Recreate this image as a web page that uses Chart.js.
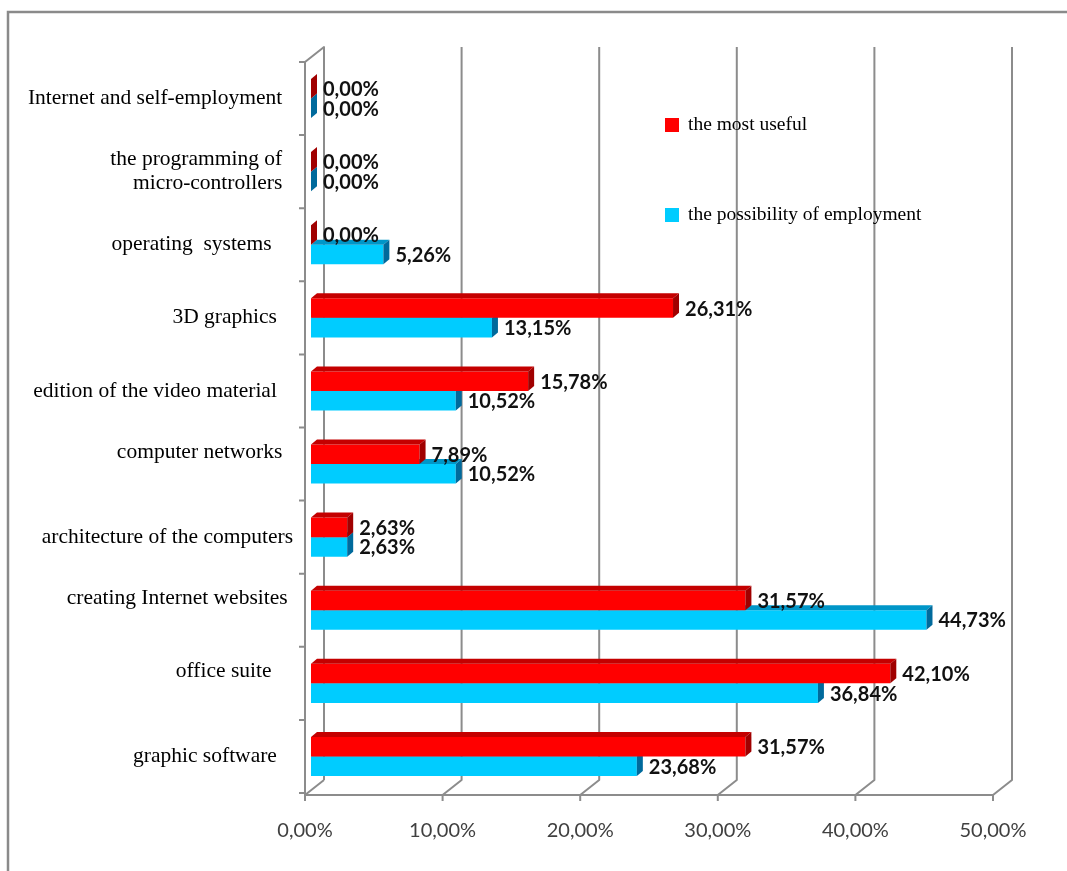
<!DOCTYPE html>
<html>
<head>
<meta charset="utf-8">
<title>Courses</title>
<script src="https://cdn.jsdelivr.net/npm/chart.js@4.4.1/dist/chart.umd.min.js"></script>
<style>
  html, body { margin: 0; padding: 0; background: #fff; }
  canvas { display: block; }
</style>
</head>
<body>
<canvas id="coursesChart" width="1067" height="871"></canvas>
<script>
// 1. DATA
const categories = [
  "Internet and self-employment  ",
  ["the programming of  ", "micro-controllers  "],
  "operating  systems    ",
  "3D graphics   ",
  "edition of the video material   ",
  ["computer networks  ", ""],
  "architecture of the computers",
  ["creating Internet websites ", ""],
  ["office suite    ", ""],
  "graphic software   "
];
const mostUseful = [0, 0, 0, 26.31, 15.78, 7.89, 2.63, 31.57, 42.10, 31.57];
const employment = [0, 0, 5.26, 13.15, 10.52, 10.52, 2.63, 44.73, 36.84, 23.68];
const xTicks = [0, 10, 20, 30, 40, 50];

// 2. LOOK
const RED = { front: "#ff0000", top: "#c40000", side: "#a00000" };
const BLUE = { front: "#00ccff", top: "#0096c8", side: "#006a9c" };
const BAR_DX = 6, BAR_DY = -5;     // bar depth
const WALL_DX = 19, WALL_DY = -15; // back wall depth
const FLOOR_SHIFT = -6;            // front floor edge sits left of the bar base
const GRID = "#8c8c8c";

const pct = v => v.toFixed(2).replace(".", ",") + "%";

// 3. PLUGINS
const frame = {
  id: "frame",
  beforeDraw(chart) {
    const ctx = chart.ctx;
    ctx.save();
    ctx.fillStyle = "#fff";
    ctx.fillRect(0, 0, chart.width, chart.height);
    ctx.strokeStyle = "#8a8a8a";
    ctx.lineWidth = 2.5;
    ctx.beginPath();
    ctx.moveTo(8, chart.height);
    ctx.lineTo(8, 12);
    ctx.lineTo(chart.width, 12);
    ctx.stroke();
    ctx.restore();
  }
};

// side wall, back wall grid and floor
const walls = {
  id: "walls",
  beforeDatasetsDraw(chart) {
    const { ctx, scales: { x, y } } = chart;
    const fx = v => x.getPixelForValue(v) + FLOOR_SHIFT;
    const top = y.top, floor = y.bottom + 2;
    ctx.save();
    ctx.strokeStyle = GRID;
    ctx.lineWidth = 2;
    ctx.lineJoin = "round";

    // left wall
    ctx.beginPath();
    ctx.moveTo(fx(0) + WALL_DX, floor + WALL_DY);
    ctx.lineTo(fx(0), floor);
    ctx.lineTo(fx(0), top);
    ctx.lineTo(fx(0) + WALL_DX, top + WALL_DY);
    ctx.lineTo(fx(0) + WALL_DX, floor + WALL_DY);
    ctx.stroke();

    // grid on the back wall with floor slants
    xTicks.slice(1).forEach(v => {
      ctx.beginPath();
      ctx.moveTo(fx(v) + WALL_DX, top + WALL_DY);
      ctx.lineTo(fx(v) + WALL_DX, floor + WALL_DY);
      ctx.lineTo(fx(v), floor);
      ctx.stroke();
    });

    // floor edge + ticks
    ctx.beginPath();
    ctx.moveTo(fx(0), floor);
    ctx.lineTo(fx(xTicks[xTicks.length - 1]), floor);
    xTicks.forEach(v => {
      ctx.moveTo(fx(v), floor);
      ctx.lineTo(fx(v), floor + 6);
    });
    // category ticks
    const band = (y.bottom - y.top) / categories.length;
    for (let i = 0; i <= categories.length; i++) {
      const ty = Math.min(y.top + i * band, floor);
      ctx.moveTo(fx(0) - 6, ty);
      ctx.lineTo(fx(0), ty);
    }
    ctx.stroke();
    ctx.restore();
  }
};

// top and end faces of every bar
const bars3d = {
  id: "bars3d",
  afterDatasetDraw(chart, args) {
    const ctx = chart.ctx;
    const pal = args.meta.index === 0 ? RED : BLUE;
    ctx.save();
    args.meta.data.forEach(el => {
      const { x, y, base, height } = el.getProps(["x", "y", "base", "height"], true);
      const t = y - height / 2, b = y + height / 2;
      if (x > base) {
        ctx.fillStyle = pal.top;
        ctx.beginPath();
        ctx.moveTo(base, t);
        ctx.lineTo(base + BAR_DX, t + BAR_DY);
        ctx.lineTo(x + BAR_DX, t + BAR_DY);
        ctx.lineTo(x, t);
        ctx.closePath();
        ctx.fill();
      }
      ctx.fillStyle = pal.side;
      ctx.beginPath();
      ctx.moveTo(x, t);
      ctx.lineTo(x + BAR_DX, t + BAR_DY);
      ctx.lineTo(x + BAR_DX, b + BAR_DY);
      ctx.lineTo(x, b);
      ctx.closePath();
      ctx.fill();
    });
    ctx.restore();
  },
  afterDatasetsDraw(chart) {
    const ctx = chart.ctx;
    ctx.save();
    ctx.font = "bold 20px Lato";
    ctx.fillStyle = "#111";
    ctx.textAlign = "left";
    ctx.textBaseline = "middle";
    chart.data.datasets.forEach((ds, i) => {
      chart.getDatasetMeta(i).data.forEach((el, j) => {
        const { x, y } = el.getProps(["x", "y"], true);
        ctx.fillText(pct(ds.data[j]), x + BAR_DX + 6, y + 1);
      });
    });
    ctx.restore();
  }
};

const legendBox = {
  id: "legendBox",
  afterDraw(chart) {
    const ctx = chart.ctx;
    const rows = [125, 215];
    ctx.save();
    ctx.font = "19.5px 'Liberation Serif'";
    ctx.textBaseline = "middle";
    ctx.textAlign = "left";
    chart.data.datasets.forEach((ds, i) => {
      ctx.fillStyle = ds.backgroundColor;
      ctx.fillRect(665, rows[i] - 7, 14, 14);
      ctx.fillStyle = "#000";
      ctx.fillText(ds.label, 688, rows[i]);
    });
    ctx.restore();
  }
};

// 4. CHART
const ctx = document.getElementById("coursesChart").getContext("2d");
const chart = new Chart(ctx, {
  type: "bar",
  data: {
    labels: categories,
    datasets: [
      { label: "the most useful", data: mostUseful, backgroundColor: RED.front },
      { label: "the possibility of employment", data: employment, backgroundColor: BLUE.front }
    ]
  },
  options: {
    indexAxis: "y",
    responsive: false,
    animation: false,
    categoryPercentage: 0.535,
    barPercentage: 1,
    borderWidth: 0,
    layout: { padding: { left: 20, top: 62, right: 68, bottom: 0 } },
    plugins: { legend: { display: false }, tooltip: { enabled: false } },
    scales: {
      x: {
        min: 0,
        max: 50,
        afterBuildTicks: s => { s.ticks = xTicks.map(v => ({ value: v })); },
        afterFit: s => { s.height = 78; },
        grid: { display: false, drawTicks: false },
        border: { display: false },
        ticks: {
          callback: v => pct(v),
          labelOffset: FLOOR_SHIFT,
          padding: 26,
          maxRotation: 0,
          autoSkip: false,
          color: "#404040",
          font: { family: "Lato", size: 20 }
        }
      },
      y: {
        afterFit: s => { s.width = 291; },
        grid: { display: false, drawTicks: false },
        border: { display: false },
        ticks: {
          padding: 18,
          color: "#000",
          autoSkip: false,
          font: { family: "'Liberation Serif'", size: 21.5, lineHeight: 1.1 }
        }
      }
    }
  },
  plugins: [frame, walls, bars3d, legendBox]
});
</script>
</body>
</html>
